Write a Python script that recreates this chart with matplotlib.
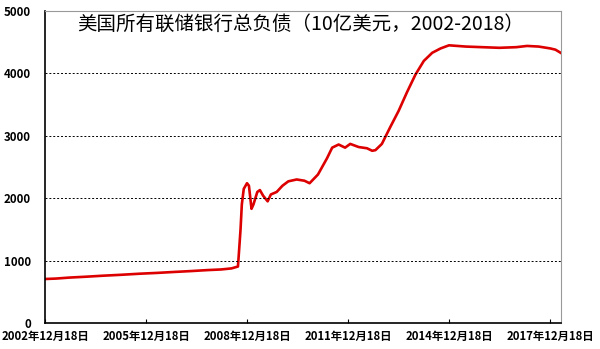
import matplotlib
matplotlib.use("Agg")
import matplotlib.pyplot as plt
import pandas as pd

plt.rcParams['font.family'] = ['Noto Sans CJK SC', 'DejaVu Sans']

# 美联储总负债 (10亿美元)
dates = [
    "2002-12-18", "2003-04-16", "2003-09-10", "2004-03-10", "2004-09-08",
    "2005-03-16", "2005-10-12", "2006-04-19", "2006-10-18", "2007-04-18",
    "2007-10-17", "2008-03-12", "2008-07-02", "2008-09-10", "2008-09-24",
    "2008-10-08", "2008-10-22", "2008-11-12", "2008-12-17", "2009-01-07",
    "2009-02-04", "2009-02-25", "2009-04-08", "2009-05-06", "2009-06-10",
    "2009-07-29", "2009-09-02", "2009-11-04", "2010-01-06", "2010-03-10",
    "2010-06-09", "2010-09-01", "2010-10-27", "2011-01-26", "2011-05-04",
    "2011-06-29", "2011-09-07", "2011-11-16", "2012-01-11", "2012-04-11",
    "2012-07-11", "2012-09-05", "2012-10-10", "2012-12-19", "2013-03-20",
    "2013-06-19", "2013-09-18", "2013-12-18", "2014-03-19", "2014-06-18",
    "2014-09-17", "2014-12-17", "2015-06-17", "2015-12-16", "2016-06-15",
    "2016-12-14", "2017-04-12", "2017-08-16", "2017-12-20", "2018-02-14",
    "2018-04-11",
]
values = [
    705, 712, 728, 742, 758,
    772, 790, 803, 818, 832,
    848, 858, 875, 905, 1200,
    1500, 1900, 2150, 2240, 2200,
    1830, 1900, 2100, 2130, 2040,
    1950, 2060, 2100, 2200, 2270,
    2300, 2280, 2240, 2380, 2640,
    2810, 2860, 2810, 2870, 2820,
    2800, 2760, 2770, 2870, 3140,
    3400, 3700, 3980, 4200, 4330,
    4400, 4450, 4430, 4420, 4410,
    4420, 4440, 4430, 4400, 4380,
    4330,
]

tick_dates = ["2002-12-18", "2005-12-18", "2008-12-18",
              "2011-12-18", "2014-12-18", "2017-12-18"]
tick_labels = ["2002年12月18日", "2005年12月18日", "2008年12月18日",
               "2011年12月18日", "2014年12月18日", "2017年12月18日"]
y_ticks = [0, 1000, 2000, 3000, 4000, 5000]

x = pd.to_datetime(dates)

fig = plt.figure(figsize=(6, 3.49), dpi=100)
ax = fig.add_axes([0.075, 0.0745, 0.86, 0.894])

ax.plot(x, values, color="#dd0000", linewidth=1.9)

ax.set_xlim(pd.Timestamp("2002-12-18"), pd.Timestamp("2018-04-15"))
ax.set_ylim(0, 5000)

ax.set_yticks(y_ticks)
ax.set_yticklabels([str(v) for v in y_ticks], fontsize=8.3, fontweight="bold")
ax.tick_params(axis="y", length=0, pad=10)

ax.set_xticks(pd.to_datetime(tick_dates))
ax.set_xticklabels(tick_labels, fontsize=8.2, fontweight="bold")
ax.tick_params(axis="x", direction="in", length=3, pad=5)

for v in [1000, 2000, 3000, 4000]:
    ax.axhline(v, color="black", linestyle=(0, (2, 2)), linewidth=0.7)

ax.spines["left"].set_linewidth(1.2)
ax.spines["bottom"].set_linewidth(1.2)
ax.spines["top"].set_color("#999999")
ax.spines["right"].set_color("#999999")
ax.spines["top"].set_linewidth(0.8)
ax.spines["right"].set_linewidth(0.8)

fig.text(0.128, 0.93, "美国所有联储银行总负债（10亿美元，2002-2018）",
         fontsize=14, fontweight="medium", va="center", ha="left")

fig.savefig("out.png", dpi=100)
